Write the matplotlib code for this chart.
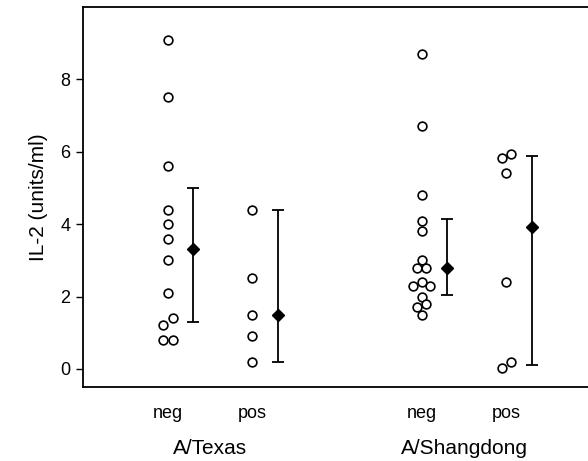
import matplotlib
matplotlib.use("Agg")
import matplotlib.pyplot as plt
import matplotlib.transforms as mtransforms

plt.rcParams['font.family'] = ['Liberation Sans', 'DejaVu Sans']

# Categories (subgroup positions) and labels
positions = [1, 2, 4, 5]
tick_labels = ["neg", "pos", "neg", "pos"]
group_labels = ["A/Texas", "A/Shangdong"]
group_centers = [1.5, 4.5]

# Individual IL-2 values per subgroup
texas_neg = [9.1, 7.5, 5.6, 4.4, 4.0, 3.6, 3.0, 2.1, 1.4, 1.2, 0.8, 0.8]
texas_neg_dx = [0, 0, 0, 0, 0, 0, 0, 0, 0.06, -0.05, -0.05, 0.06]
texas_pos = [4.4, 2.5, 1.5, 0.9, 0.2]
texas_pos_dx = [0, 0, 0, 0, 0]
shang_neg = [8.7, 6.7, 4.8, 4.1, 3.8, 3.0, 2.8, 2.8, 2.4, 2.3, 2.3, 2.0, 1.8, 1.7, 1.5]
shang_neg_dx = [0, 0, 0, 0, 0, 0, -0.05, 0.05, 0, -0.1, 0.1, 0, 0.05, -0.05, 0]
shang_pos = [5.93, 5.83, 5.42, 2.4, 0.2, 0.02]
shang_pos_dx = [0.05, -0.05, 0, 0, 0.05, -0.05]

# Summary: median and bar limits per subgroup
medians = [3.3, 1.5, 2.8, 3.92]
bar_low = [1.3, 0.2, 2.03, 0.12]
bar_high = [5.0, 4.4, 4.13, 5.88]
summary_offset = 0.3

groups = [(texas_neg, texas_neg_dx), (texas_pos, texas_pos_dx),
          (shang_neg, shang_neg_dx), (shang_pos, shang_pos_dx)]

fig = plt.figure(figsize=(5.88, 4.61), dpi=100)
ax = fig.add_axes([83/588, 74/461, 508/588, 380/461])

for pos, (vals, dx) in zip(positions, groups):
    xs = [pos + d for d in dx]
    ax.plot(xs, vals, linestyle='none', marker='o', markersize=6.3,
            markerfacecolor='white', markeredgecolor='black', markeredgewidth=1.2)

for pos, m, lo, hi in zip(positions, medians, bar_low, bar_high):
    x = pos + summary_offset
    ax.errorbar([x], [m], yerr=[[m - lo], [hi - m]], fmt='D', color='black',
                markersize=6, capsize=4, elinewidth=1.3, capthick=1.3)

ax.set_xlim(0, 6)
ax.set_ylim(-0.5, 10)
ax.set_yticks([0, 2, 4, 6, 8])
ax.set_xticks(positions)
ax.set_xticklabels(tick_labels)
ax.tick_params(axis='x', length=0, pad=13, labelsize=13)
ax.tick_params(axis='y', direction='out', length=5, width=1, labelsize=13, pad=4)
for s in ['left', 'bottom', 'top']:
    ax.spines[s].set_linewidth(1.3)
ax.spines['right'].set_visible(False)
ax.set_ylabel("IL-2 (units/ml)", fontsize=15, labelpad=9)

trans = mtransforms.blended_transform_factory(ax.transData, fig.transFigure)
for c, lab in zip(group_centers, group_labels):
    ax.text(c, 13/461, lab, transform=trans, ha='center', va='center', fontsize=15)

fig.savefig("out.png", dpi=100)
